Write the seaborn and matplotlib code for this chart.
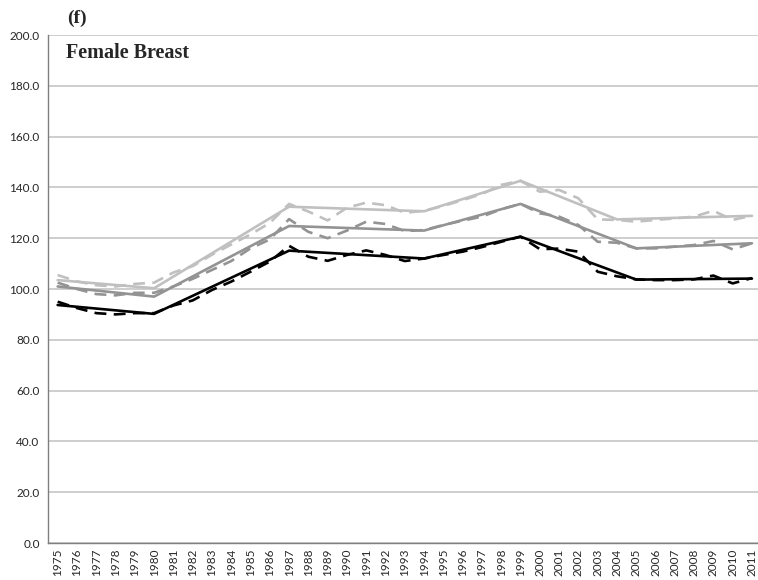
import numpy as np
import pandas as pd
import seaborn as sns
import matplotlib.pyplot as plt

# -----------------------------
# Data
# -----------------------------
years = list(range(1975, 2012))

# observed rates (dashed)
obs_light = [105.5, 103.0, 101.5, 101.0, 102.0, 102.5, 106.5, 109.0, 113.5, 117.5,
             121.5, 126.0, 133.5, 130.5, 127.0, 132.0, 134.0, 133.0, 130.0, 130.8,
             132.7, 135.0, 137.4, 141.0, 142.6, 138.3, 139.0, 135.7, 127.4, 127.2,
             126.5, 127.2, 127.8, 128.5, 130.8, 127.2, 128.9]
obs_mid = [102.5, 100.0, 98.0, 97.5, 98.5, 98.5, 101.0, 104.0, 107.5, 111.0,
           116.0, 119.5, 127.5, 122.5, 120.0, 123.0, 126.5, 125.6, 122.8, 123.2,
           125.2, 126.9, 128.5, 131.4, 133.5, 129.8, 128.5, 125.2, 118.6, 118.2,
           116.0, 116.0, 116.7, 117.3, 118.9, 115.6, 118.0]
obs_black = [95.0, 92.5, 90.5, 90.0, 90.5, 90.5, 93.5, 95.5, 99.6, 102.9,
             106.8, 110.8, 117.0, 112.7, 111.1, 113.4, 115.2, 113.4, 111.0, 112.0,
             113.4, 114.7, 116.5, 118.6, 120.6, 115.7, 115.9, 114.7, 106.8, 105.0,
             103.8, 103.5, 103.5, 103.8, 105.3, 102.2, 104.3]

# joinpoint fits (solid)
fit_light_years = [1975, 1980, 1987, 1994, 1999, 2004, 2011]
fit_light = [103.5, 100.3, 132.4, 130.6, 142.6, 127.4, 128.8]
fit_mid_years = [1975, 1980, 1987, 1994, 1999, 2005, 2011]
fit_mid = [101.0, 97.0, 124.8, 123.0, 133.5, 116.0, 118.0]
fit_black_years = [1975, 1980, 1987, 1994, 1999, 2005, 2011]
fit_black = [93.7, 90.2, 115.1, 112.0, 120.6, 103.7, 104.1]

c_light = '#c0c0c0'
c_mid = '#939393'
c_black = '#000000'

# -----------------------------
# Figure
# -----------------------------
sns.set_style('white')
plt.rcParams['font.family'] = ['Lato', 'DejaVu Sans']

fig = plt.figure(figsize=(7.58, 5.8), dpi=100)
ax = fig.add_axes([48 / 758, 37 / 580, (761.6 - 48) / 758, 508 / 580])

dash = (0, (4.5, 2.8))
for vals, col in [(obs_light, c_light), (obs_mid, c_mid), (obs_black, c_black)]:
    sns.lineplot(x=years, y=vals, color=col, linewidth=1.9, linestyle=dash, ax=ax)
for yrs, vals, col in [(fit_light_years, fit_light, c_light),
                       (fit_mid_years, fit_mid, c_mid),
                       (fit_black_years, fit_black, c_black)]:
    sns.lineplot(x=yrs, y=vals, color=col, linewidth=1.9, ax=ax)

ax.set_xlim(1974.5, 2011.5)
ax.set_ylim(0, 200)
ax.set_yticks(np.arange(0, 201, 20))
ax.set_yticklabels([f'{v:.1f}' for v in np.arange(0, 201, 20)], fontsize=8.5)
ax.set_xticks(years)
ax.set_xticklabels([str(y) for y in years], rotation=90, fontsize=8.5)
ax.set_xticks(np.arange(1974.5, 2012, 1), minor=True)
ax.tick_params(axis='x', which='major', length=0, pad=4)
ax.tick_params(axis='x', which='minor', length=4, width=0.8, color='#7f7f7f', direction='out')
ax.tick_params(axis='y', length=4, width=0.8, color='#7f7f7f', direction='out', pad=2)
ax.grid(axis='y', color='#c6c6c6', linewidth=1.2)
ax.set_axisbelow(True)
for s in ['top', 'right']:
    ax.spines[s].set_visible(False)
for s in ['left', 'bottom']:
    ax.spines[s].set_color('#7f7f7f')
    ax.spines[s].set_linewidth(1.0)
ax.set_xlabel('')
ax.set_ylabel('')

fig.text(67 / 758, 1 - 18 / 580, '(f)', fontsize=14, fontweight='bold',
         family='Liberation Serif', va='center', ha='left')
fig.text(66 / 758, 1 - 53 / 580, 'Female Breast', fontsize=14.5, fontweight='bold',
         family='Liberation Serif', va='center', ha='left')

plt.savefig('out.png', dpi=100)
